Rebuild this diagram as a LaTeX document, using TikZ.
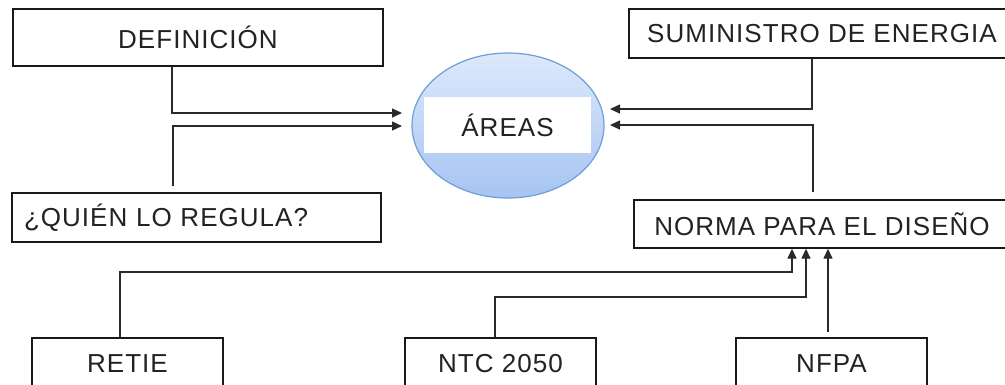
\documentclass[tikz,border=0pt]{standalone}
\usepackage{fontspec}
\setmainfont{Liberation Sans}[LetterSpace=4]
\usetikzlibrary{arrows.meta,calc,shapes.geometric}
\definecolor{ellTop}{HTML}{DDE9FB}
\definecolor{ellBot}{HTML}{A6C4F3}
\definecolor{ellLine}{HTML}{6E9ED6}
\definecolor{lineC}{HTML}{2A2A2A}
\definecolor{txtC}{HTML}{222222}
\tikzset{
  lbl/.style={font=\fontsize{26}{30}\selectfont, text=txtC},
  box/.style={lbl, draw=black!90, line width=1.4pt, fill=white, inner sep=0pt},
  conn/.style={draw=lineC, line width=1.4pt, -{Triangle[length=10pt,width=9pt]}},
}
\begin{document}
\begin{tikzpicture}[x=1pt,y=-1pt]
\useasboundingbox (0,0) rectangle (1005,384);
\clip (0,0) rectangle (1005,384);
\fill[white] (0,0) rectangle (1005,384);

% ellipse
\node[ellipse, draw=ellLine, line width=1.2pt, top color=ellTop, bottom color=ellBot,
  minimum width=192pt, minimum height=145pt, inner sep=0pt] (areas) at (508,125.5) {};
\node[lbl, fill=white, minimum width=167pt, minimum height=56pt, inner sep=0pt] (areasl) at (507.5,125) {ÁREAS};

% boxes
\node[box, minimum width=370pt, minimum height=57pt] (def) at (198,37.5) {DEFINICIÓN};
\node[box, minimum height=49pt, text width=345pt, align=left, inner xsep=12pt] (quien) at (196.5,217.5) {¿QUIÉN LO REGULA?};
\node[box, minimum width=386pt, minimum height=49pt] (sum) at (822,33.5) {SUMINISTRO DE ENERGIA};
\node[box, minimum width=376pt, minimum height=48pt] (norma) at (822,224) {NORMA PARA EL DISEÑO};
\node[box, minimum width=191pt, minimum height=52pt] (retie) at (127.5,364) {RETIE};
\node[box, minimum width=191pt, minimum height=52pt] (ntc) at (500.5,364) {NTC 2050};
\node[box, minimum width=191pt, minimum height=52pt] (nfpa) at (831.5,364) {NFPA};

% helper coordinates
\coordinate (d1) at (172,0);
\coordinate (q1) at (173,0);
\coordinate (s1) at (812,0);
\coordinate (s2) at (813,0);
\coordinate (aL1) at (402,113);
\coordinate (aL2) at (402,126);
\coordinate (aR1) at (610,109);
\coordinate (aR2) at (610,125);
\coordinate (r1) at (120,0);
\coordinate (rk) at (792,272);
\coordinate (t1) at (495,0);
\coordinate (tk) at (806,297);
\coordinate (f1) at (828,0);

% connectors
\draw[conn] (def.south -| d1) |- (aL1);
\draw[conn, shorten <=6pt] (quien.north -| q1) |- (aL2);
\draw[conn] (sum.south -| s1) |- (aR1);
\draw[conn, shorten <=7pt] (norma.north -| s2) |- (aR2);
\draw[conn] (retie.north -| r1) |- (rk) -- (rk |- norma.south);
\draw[conn] (ntc.north -| t1) |- (tk) -- (tk |- norma.south);
\draw[conn, shorten <=5pt] (nfpa.north -| f1) -- (norma.south -| f1);
\end{tikzpicture}
\end{document}
